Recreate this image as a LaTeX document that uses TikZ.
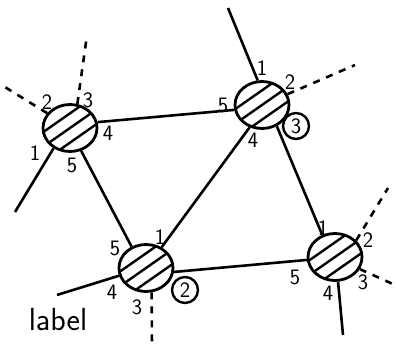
\documentclass[tikz,border=0pt]{standalone}
\usepackage{tikz}
\usetikzlibrary{shapes.geometric}

\begin{document}
\begin{tikzpicture}[
  x=1pt, y=1pt,
  every node/.style={font=\sffamily\fontsize{22}{22}\selectfont},
  hub/.style={draw, ellipse, line width=2.8pt, inner sep=0pt,
              minimum width=54pt, minimum height=47pt,
              path picture={\foreach \o in {-12,0,12}
                {\draw[line width=2.4pt] (path picture bounding box.center)
                   ++(125:\o) ++(35:-30) -- ++(35:60);}}},
  port/.style={inner sep=1pt},
  cport/.style={draw, circle, line width=2.4pt, inner sep=0pt, minimum size=26pt},
  link/.style={line width=2.6pt},
  free/.style={link, dash pattern=on 7pt off 7pt}
]
\useasboundingbox (0,0) rectangle (406,350);

%% ---- HUBS ------------------------------------------------------
\node[hub] (na) at (70, 222) {};
\node[hub] (nb) at (262,245) {};
\node[hub] (nc) at (146, 82) {};
\node[hub] (nd) at (335, 93) {};

%% ---- LOOSE ENDS ------------------------------------------------
\coordinate (a1end) at (15, 138);
\coordinate (a2end) at (0,  266);
\coordinate (a3end) at (87, 315);
\coordinate (b1end) at (228,342);
\coordinate (b2end) at (355,285);
\coordinate (c4end) at (57,  55);
\coordinate (c3end) at (152,  3);
\coordinate (d2end) at (388,162);
\coordinate (d3end) at (395, 65);
\coordinate (d4end) at (343, 15);

%% ---- LINKS -----------------------------------------------------
\draw[link] (na.12)  -- (nb.190);
\draw[link] (na.-64) -- (nc.124);
\draw[link] (nb.241) -- (nc.53);
\draw[link] (nb.-55) -- (nd.120);
\draw[link] (nc.-8)  -- (nd.186);

\draw[link] (na.231) -- (a1end);
\draw[free] (na.147) -- (a2end);
\draw[free] (na.73)  -- (a3end);
\draw[link] (nb.100) -- (b1end);
\draw[free] (nb.23)  -- (b2end);
\draw[link] (nc.196) -- (c4end);
\draw[free] (nc.283) -- (c3end);
\draw[free] (nd.38)  -- (d2end);
\draw[free] (nd.-26) -- (d3end);
\draw[link] (nd.277) -- (d4end);

%% ---- PORT NUMBERS ----------------------------------------------
\node[port] (a1) at (35, 197) {1};
\node[port] (a2) at (47, 248) {2};
\node[port] (a3) at (88, 250) {3};
\node[port] (a4) at (108,217) {4};
\node[port] (a5) at (72, 185) {5};

\node[port]  (b1) at (262,282) {1};
\node[port]  (b2) at (290,268) {2};
\node[cport] (b3) at (296,224) {3};
\node[port]  (b4) at (253,210) {4};
\node[port]  (b5) at (223,245) {5};

\node[port]  (c1) at (160,113) {1};
\node[cport] (c2) at (185, 60) {2};
\node[port]  (c3) at (137, 43) {3};
\node[port]  (c4) at (112, 58) {4};
\node[port]  (c5) at (115,102) {5};

\node[port] (d1) at (323,122) {1};
\node[port] (d2) at (368,110) {2};
\node[port] (d3) at (363, 68) {3};
\node[port] (d4) at (328, 57) {4};
\node[port] (d5) at (295, 73) {5};

\node[font=\sffamily\fontsize{32}{32}\selectfont] (lbl) at (58,30) {label};

\end{tikzpicture}
\end{document}
